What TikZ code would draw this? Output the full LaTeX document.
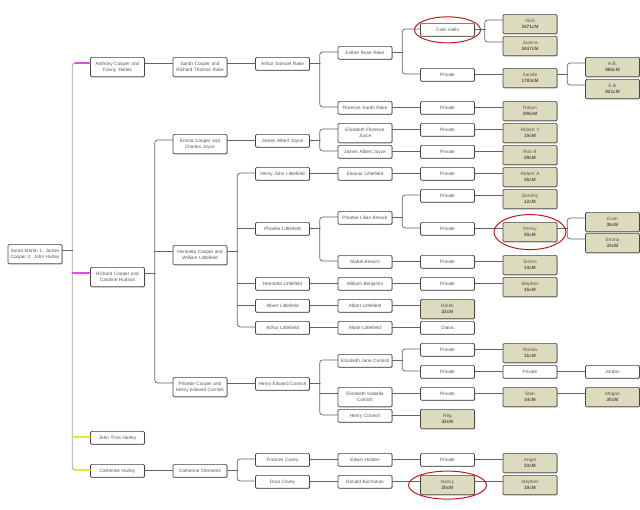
\documentclass[tikz,border=0pt]{standalone}
\usepackage{fontspec}
\newfontfamily\treefont{Liberation Sans}
\usetikzlibrary{shadows}
\definecolor{boxline}{RGB}{70,70,70}
\definecolor{boxtext}{RGB}{85,85,85}
\definecolor{dnafill}{RGB}{221,219,189}
\definecolor{linkgray}{RGB}{100,100,100}
\definecolor{trunkgray}{RGB}{160,160,160}
\definecolor{magentaline}{RGB}{222,80,222}
\definecolor{yellowline}{RGB}{232,232,40}
\definecolor{ringred}{RGB}{196,24,30}

\begin{document}
\begin{tikzpicture}[x=1pt, y=-1pt, line join=round, line cap=round]
	\tikzset{
		person/.style={draw=boxline, line width=0.65pt, rounded corners=1.2pt, fill=white, text=boxtext,
			text width=52pt, inner xsep=1pt, inner ysep=3.2pt, align=center, anchor=mid,
			font=\treefont\fontsize{4.7}{6.5}\selectfont,
			drop shadow={shadow xshift=0.5pt, shadow yshift=-0.5pt, opacity=0.35, fill=black},
			execute at begin node=\strut, execute at end node=\strut},
		match/.style={person, fill=dnafill},
		link/.style={draw=linkgray, line width=0.7pt, rounded corners=3pt},
		trunk/.style={draw=trunkgray, line width=0.8pt, rounded corners=3pt},
		magentalink/.style={draw=magentaline, line width=1.1pt},
		yellowlink/.style={draw=yellowline, line width=1.1pt},
		circled/.style={draw=ringred, line width=1pt}
	}
	\useasboundingbox (0,0) rectangle (640,510);
	
	% generation 0 and 1
	\node[person] (root) at (35,250) {Sarah Martin 1. James\\Cooper 2. John Hurley};
	\node[person] (anthony) at (117.5,63) {Anthony Cooper and\\Fanny Yeeles};
	\node[person] (richard) at (117.5,273) {Richard Cooper and\\Caroline Hudson};
	\node[person] (johnthos) at (117.5,437) {John Thos Hurley};
	\node[person] (cathhurley) at (117.5,470) {Catherine Hurley};
	
	% generation 2
	\node[person] (sarahc) at (200,63) {Sarah Cooper and\\Richard Thomas Rake};
	\node[person] (emma) at (200,140) {Emma Cooper and\\Charles Joyce};
	\node[person] (henrietta) at (200,251) {Henrietta Cooper and\\William Littlefield};
	\node[person] (phoebec) at (200,383) {Phoebe Cooper and\\Henry Edward Cornish};
	\node[person] (cathclem) at (200,470) {Catherine Clements};
	
	% generation 3
	\node[person] (arthur) at (282.5,63) {Arthur Samuel Rake};
	\node[person] (jamesaj) at (282.5,140) {James Albert Joyce};
	\node[person] (henryjl) at (282.5,173) {Henry John Littlefield};
	\node[person] (phoebel) at (282.5,228) {Phoebe Littlefield};
	\node[person] (henriettal) at (282.5,283) {Henrietta Littlefield};
	\node[person] (albertl) at (282.5,305) {Albert Littlefield};
	\node[person] (arthurl) at (282.5,327) {Arthur Littlefield};
	\node[person] (henryec) at (282.5,383) {Henry Edward Cornish};
	\node[person] (frances) at (282.5,459) {Frances Covey};
	\node[person] (dora) at (282.5,481) {Dora Covey};
	
	% generation 4
	\node[person] (esther) at (365,52) {Esther Rose Rake};
	\node[person] (florence) at (365,107) {Florence Sarah Rake};
	\node[person] (elizfj) at (365,129) {Elizabeth Florence\\Joyce};
	\node[person] (jamesaj2) at (365,151) {James Albert Joyce};
	\node[person] (eleanor) at (365,173) {Eleanor Littlefield};
	\node[person] (phoebelb) at (365,217) {Phoebe Lilian Breach};
	\node[person] (mabel) at (365,261) {Mabel Breach};
	\node[person] (william) at (365,283) {William Benjamin};
	\node[person] (albertl2) at (365,305) {Albert Littlefield};
	\node[person] (marie) at (365,327) {Marie Littlefield};
	\node[person] (elizjc) at (365,360) {Elizabeth Jane Cornish};
	\node[person] (elizic) at (365,393) {Elizabeth Isabella\\Cornish};
	\node[person] (henryc) at (365,415) {Henry Cornish};
	\node[person] (edwin) at (365,459) {Edwin Holden};
	\node[person] (donald) at (365,481) {Donald Buchanan};
	
	% generation 5
	\node[person] (colin) at (447.5,29) {Colin Halls};
	\foreach \n/\y in {p1/74, p2/107, p3/129, p4/151, p5/173, p6/195, p7/228, p8/261, p9/283, p10/349, p11/371, p12/393, p13/459}
		\node[person] (\n) at (447.5,\y) {Private};
	\node[match] (derek) at (447.5,305) {Derek\\\textbf{22cM}};
	\node[person] (diana) at (447.5,327) {Diana};
	\node[match] (reg) at (447.5,415) {Reg\\\textbf{42cM}};
	\node[match] (nancy) at (447.5,481) {Nancy\\\textbf{20cM}};
	
	% generation 6
	\foreach \n/\y/\who/\cm in {vicki/20/Vicki/3471, joanna/42/Joanna/3447, sandie/74/Sandie/1793, robyn/107/Robyn/296,
		robertv/129/Robert V/15, robb/151/Rob B/29, roberta/173/Robert A/26, dorothy/195/Dorothy/12, penny/228/Penny/55,
		simon/261/Simon/14, stephen/283/Stephen/15, ronda/349/Ronda/11, stan/393/Stan/34, angel/459/Angel/23, stephenb/481/Stephen/18}
		\node[match] (\n) at (530,\y) {\who\\\textbf{\cm cM}};
	\node[person] (p14) at (530,371) {Private};
	
	% generation 7
	\foreach \n/\y/\who/\cm in {hb/63/H.B./886, eb/85/E.B/921, evan/218/Evan/36, emmab/239/Emma/34, megan/393/Megan/30}
		\node[match] (\n) at (612.5,\y) {\who\\\textbf{\cm cM}};
	\node[person] (jordan) at (612.5,371) {Jordan};
	
	% connectors
	\draw[trunk] (anthony.mid west) -- ++(-18,0) |- (cathhurley.mid west);
	\draw[link] (root.mid east) -- ++(10.5,0);
	\draw[magentalink] (anthony.mid west) -- ++(-15,0);
	\draw[magentalink] (richard.mid west) -- ++(-18,0);
	\draw[yellowlink] (johnthos.mid west) -- ++(-18,0);
	\draw[yellowlink] (cathhurley.mid west) -- ++(-15,0);
	\foreach \p/\a/\b in {richard/emma/phoebec, henrietta/henryjl/arthurl, henryec/elizjc/henryc, cathclem/frances/dora,
		arthur/esther/florence, jamesaj/elizfj/jamesaj2, phoebel/phoebelb/mabel, esther/colin/p1, phoebelb/p6/p7,
		elizjc/p10/p11, colin/vicki/joanna, sandie/hb/eb, penny/evan/emmab} {
		\draw[link] (\p.mid east) -- ++(10.5,0);
		\draw[link] (\a.mid west) -- ++(-18,0) |- (\b.mid west);
	}
	\foreach \c in {henrietta, phoebel, henriettal, albertl, elizic}
		\draw[link] (\c.mid west) -- ++(-18,0);
	\foreach \a/\b in {anthony/sarahc, sarahc/arthur, florence/p2, p2/robyn, p1/sandie, emma/jamesaj, elizfj/p3, p3/robertv,
		jamesaj2/p4, p4/robb, henryjl/eleanor, eleanor/p5, p5/roberta, p6/dorothy, p7/penny, mabel/p8, p8/simon,
		henriettal/william, william/p9, p9/stephen, albertl/albertl2, albertl2/derek, arthurl/marie, marie/diana,
		phoebec/henryec, p10/ronda, p11/p14, p14/jordan, elizic/p12, p12/stan, stan/megan, henryc/reg,
		cathhurley/cathclem, frances/edwin, edwin/p13, p13/angel, dora/donald, donald/nancy, nancy/stephenb}
		\draw[link] (\a.mid east) -- (\b.mid west);
	
	% red rings
	\draw[circled] (colin) ellipse [x radius=33pt, y radius=13pt];
	\draw[circled] (penny) ellipse [x radius=36pt, y radius=17.5pt];
	\draw[circled] (nancy) ellipse [x radius=39pt, y radius=14pt];
\end{tikzpicture}
\end{document}
